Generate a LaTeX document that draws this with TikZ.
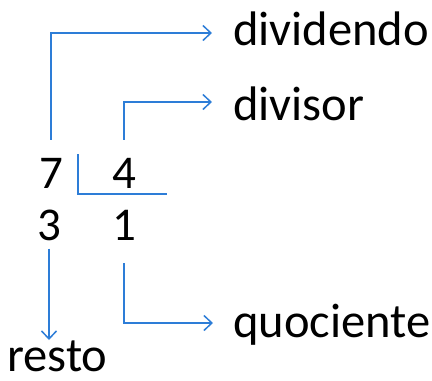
\documentclass[tikz,border=0pt]{standalone}
\usepackage{fontspec}
\setmainfont{Carlito}
\usepackage{xcolor}
\usepackage{tikz}
\usetikzlibrary{arrows.meta,positioning}
\definecolor{lineblue}{RGB}{45,125,215}

\begin{document}
\begin{tikzpicture}[
  x=1pt, y=-1pt,
  num/.style={anchor=base, inner sep=0pt, font=\fontsize{47}{56}\selectfont},
  term/.style={anchor=base west, inner sep=0pt, font=\fontsize{48.5}{58}\selectfont},
  line/.style={draw=lineblue, line width=1.5pt},
  arrow/.style={line, -{Straight Barb[length=8pt,width=15pt,line width=1.5pt]}},
]
  \useasboundingbox (0,0) rectangle (432,381);

  \node[num] (n7) at (51,188) {7};
  \node[num] (n4) at (124,188) {4};
  \node[num] (n3) at (49,240) {3};
  \node[num] (n1) at (124,240) {1};

  \node[term] (dividendo) at (233,45)  {dividendo};
  \node[term] (divisor)   at (233,120) {divisor};
  \node[term] (quociente) at (233,337) {quociente};
  \node[term] (resto)     at (7,371)   {resto};

  % division bracket
  \draw[line] (78,154) |- (167,194);

  % Arrows
  \draw[arrow, shorten >=21pt] ([yshift=18pt]n7.north) |- ([yshift=12pt]dividendo.base west);
  \draw[arrow, shorten >=21pt] ([yshift=18pt]n4.north) |- ([yshift=18pt]divisor.base west);
  \draw[arrow, shorten >=20pt] ([yshift=-23pt]n1.south) |- ([yshift=14pt]quociente.base west);
  \draw[arrow] ([yshift=-8pt]n3.south) -- ([yshift=31pt]n3.south |- resto.base);
\end{tikzpicture}
\end{document}
